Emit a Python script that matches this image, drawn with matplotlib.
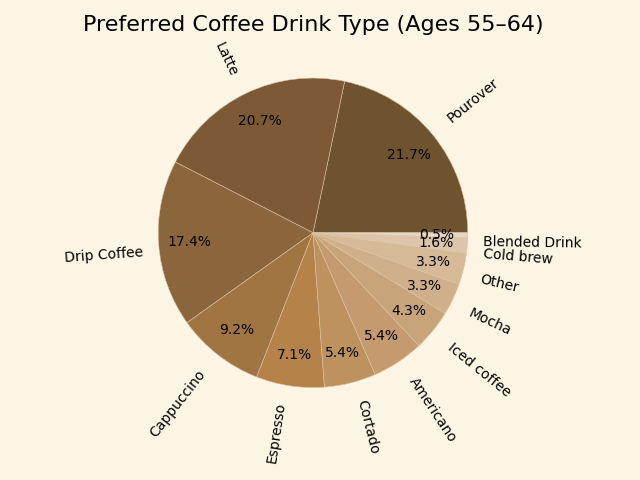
import matplotlib.pyplot as plt

# Coffee drink preferences, ages 55-64
drinks = ['Pourover', 'Latte', 'Drip Coffee', 'Cappuccino', 'Espresso', 'Cortado',
          'Americano', 'Iced coffee', 'Mocha', 'Other', 'Cold brew', 'Blended Drink']
shares = [21.7, 20.7, 17.4, 9.2, 7.1, 5.4, 5.4, 4.3, 3.3, 3.3, 1.6, 0.5]
colors = ['#6f532f', '#7d5a35', '#8b653b', '#a07542', '#b5824a', '#be925f',
          '#c49a6e', '#c8a47a', '#d0b08a', '#d6b996', '#dcc5aa', '#e6d8c8']

bg = '#fdf5e4'
fig = plt.figure(figsize=(6.4, 4.8), dpi=100, facecolor=bg)
ax = fig.add_axes([119.5 / 640, 0.112, 387 / 640, 0.806])
ax.set_facecolor(bg)

ax.pie(shares, labels=drinks, colors=colors, autopct='%1.1f%%',
       startangle=0, rotatelabels=True, pctdistance=0.8,
       wedgeprops={'edgecolor': '#d9c3a5', 'linewidth': 0.4})
ax.set_title('Preferred Coffee Drink Type (Ages 55–64)', fontsize=16)

fig.savefig('out.png', facecolor=bg)
